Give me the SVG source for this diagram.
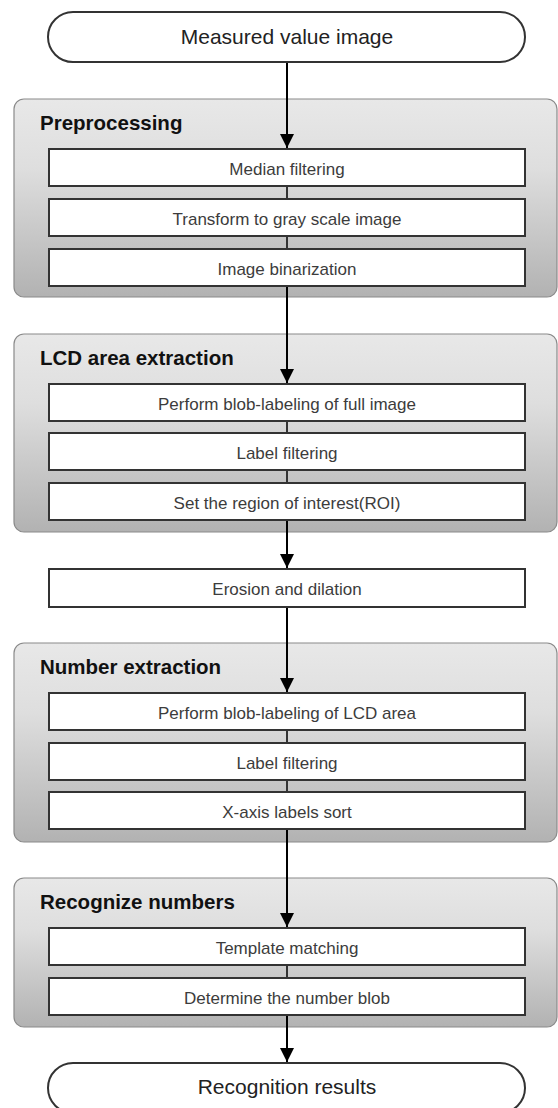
<svg xmlns="http://www.w3.org/2000/svg" width="558" height="1108" viewBox="0 0 558 1108">
<defs>
<linearGradient id="grp" x1="0" y1="0" x2="0" y2="1">
<stop offset="0" stop-color="#e8e8e8"/>
<stop offset="0.35" stop-color="#dedede"/>
<stop offset="1" stop-color="#b2b2b2"/>
</linearGradient>
<marker id="arr" viewBox="0 0 14 14" refX="14" refY="7" markerWidth="14" markerHeight="14" markerUnits="userSpaceOnUse" orient="auto">
<path d="M0,0 L14,7 L0,14 Z" fill="#000"/>
</marker>
<style>
.grp{fill:url(#grp);stroke:#8a8a8a;stroke-width:1.2}
.box{fill:#fff;stroke:#333;stroke-width:2}
.term{fill:#fff;stroke:#333;stroke-width:2}
.t{font-family:"Liberation Sans",Arial,sans-serif;font-size:17px;fill:#3c3c3c;text-anchor:middle}
.tt{font-family:"Liberation Sans",Arial,sans-serif;font-size:21px;fill:#222;text-anchor:middle}
.h{font-family:"Liberation Sans",Arial,sans-serif;font-size:20.5px;font-weight:bold;fill:#111}
.c{stroke:#000;stroke-width:2;fill:none}
.ca{stroke:#000;stroke-width:2;fill:none;marker-end:url(#arr)}
.cl{stroke:#333;stroke-width:2;fill:none}
</style>
</defs>

<g id="start">
<rect class="term" x="48" y="12" width="477" height="50" rx="25" ry="25"/>
<text class="tt" x="287" y="44">Measured value image</text>
</g>

<g id="preprocessing">
<rect class="grp" x="14" y="99" width="543" height="198" rx="10" ry="10"/>
<text class="h" x="40" y="130">Preprocessing</text>
</g>
<g id="lcd">
<rect class="grp" x="14" y="334" width="543" height="198" rx="10" ry="10"/>
<text class="h" x="40" y="365">LCD area extraction</text>
</g>
<g id="number">
<rect class="grp" x="14" y="643" width="543" height="199" rx="10" ry="10"/>
<text class="h" x="40" y="674">Number extraction</text>
</g>
<g id="recognize">
<rect class="grp" x="14" y="878" width="543" height="149" rx="10" ry="10"/>
<text class="h" x="40" y="909">Recognize numbers</text>
</g>

<g id="connectors">
<line class="ca" x1="287" y1="63" x2="287" y2="148"/>
<line class="cl" x1="287" y1="186" x2="287" y2="199"/>
<line class="cl" x1="287" y1="236" x2="287" y2="249"/>
<line class="ca" x1="287" y1="286" x2="287" y2="383"/>
<line class="cl" x1="287" y1="421" x2="287" y2="433"/>
<line class="cl" x1="287" y1="470" x2="287" y2="483"/>
<line class="ca" x1="287" y1="520" x2="287" y2="568"/>
<line class="ca" x1="287" y1="607" x2="287" y2="692"/>
<line class="cl" x1="287" y1="730" x2="287" y2="743"/>
<line class="cl" x1="287" y1="780" x2="287" y2="792"/>
<line class="ca" x1="287" y1="829" x2="287" y2="927"/>
<line class="cl" x1="287" y1="965" x2="287" y2="978"/>
<line class="ca" x1="287" y1="1015" x2="287" y2="1062"/>
</g>

<g id="median"><rect class="box" x="49" y="149" width="476" height="37"/><text class="t" x="287" y="175">Median filtering</text></g>
<g id="gray"><rect class="box" x="49" y="199" width="476" height="37"/><text class="t" x="287" y="225">Transform to gray scale image</text></g>
<g id="binar"><rect class="box" x="49" y="249" width="476" height="37"/><text class="t" x="287" y="275">Image binarization</text></g>

<g id="blobfull"><rect class="box" x="49" y="384" width="476" height="37"/><text class="t" x="287" y="410">Perform blob-labeling of full image</text></g>
<g id="labelfilt1"><rect class="box" x="49" y="433" width="476" height="37"/><text class="t" x="287" y="459">Label filtering</text></g>
<g id="roi"><rect class="box" x="49" y="483" width="476" height="37"/><text class="t" x="287" y="509">Set the region of interest(ROI)</text></g>

<g id="erosion"><rect class="box" x="49" y="569" width="476" height="38"/><text class="t" x="287" y="595">Erosion and dilation</text></g>

<g id="bloblcd"><rect class="box" x="49" y="693" width="476" height="37"/><text class="t" x="287" y="719">Perform blob-labeling of LCD area</text></g>
<g id="labelfilt2"><rect class="box" x="49" y="743" width="476" height="37"/><text class="t" x="287" y="769">Label filtering</text></g>
<g id="xsort"><rect class="box" x="49" y="792" width="476" height="37"/><text class="t" x="287" y="818">X-axis labels sort</text></g>

<g id="template"><rect class="box" x="49" y="928" width="476" height="37"/><text class="t" x="287" y="954">Template matching</text></g>
<g id="determine"><rect class="box" x="49" y="978" width="476" height="37"/><text class="t" x="287" y="1004">Determine the number blob</text></g>

<g id="end">
<rect class="term" x="48" y="1063" width="477" height="50" rx="25" ry="25"/>
<text class="tt" x="287" y="1094">Recognition results</text>
</g>
</svg>
